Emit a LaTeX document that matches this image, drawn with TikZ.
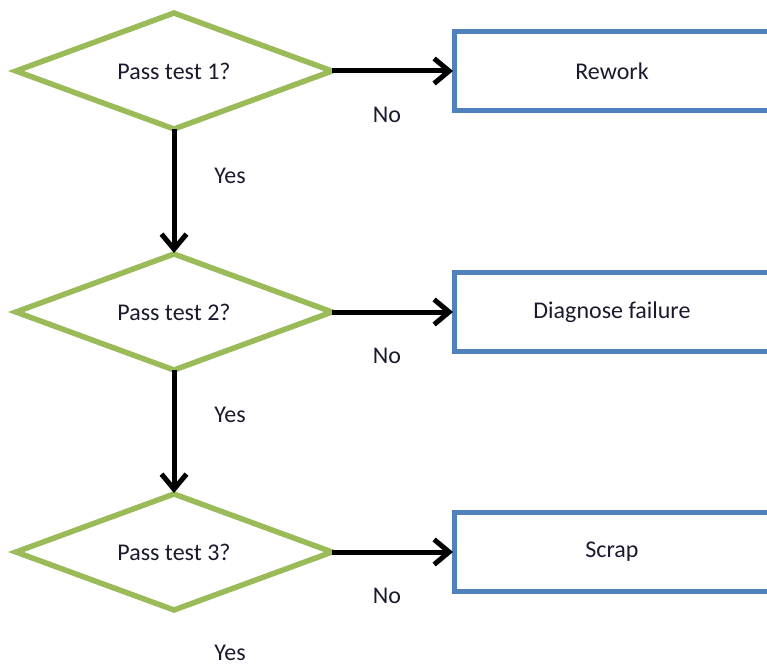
\documentclass[tikz,border=0pt]{standalone}
\usepackage{fontspec}
\setmainfont{Carlito}
\usetikzlibrary{shapes.geometric,arrows.meta}
\definecolor{dgreen}{HTML}{9BBB59}
\definecolor{dblue}{HTML}{4F81BD}
\definecolor{txt}{HTML}{1A1A2E}
\begin{document}
\begin{tikzpicture}[x=1pt,y=-1pt,
  font=\fontsize{24}{28}\selectfont,
  text=txt,
  dec/.style={diamond, draw=dgreen, line width=5.5pt, minimum width=316pt, minimum height=116pt,
              inner sep=0pt, outer sep=0pt, aspect=2.7},
  act/.style={rectangle, draw=dblue, line width=5pt, minimum width=316pt, minimum height=79pt,
              inner sep=0pt, outer sep=0pt},
  flow/.style={line width=5pt, draw=black, -{Straight Barb[length=15pt,width=25pt]}, shorten >=1pt},
  lbl/.style={inner sep=0pt}]
\useasboundingbox (0,0) rectangle (767,668);
\clip (0,0) rectangle (767,668);

\node[dec] (d1) at (174,71)  {Pass test 1?};
\node[dec] (d2) at (174,312) {Pass test 2?};
\node[dec] (d3) at (174,552) {Pass test 3?};

\node[act] (r1) at (612,71)  {Rework};
\node[act] (r2) at (612,312) {Diagnose failure};
\node[act] (r3) at (612,552) {Scrap};

\draw[flow] (d1.east) -- (r1.west);
\draw[flow] (d2.east) -- (r2.west);
\draw[flow] (d3.east) -- (r3.west);
\draw[flow] (d1.south) -- (d2.north);
\draw[flow] (d2.south) -- (d3.north);

\node[lbl] (no1) at (387,115) {No};
\node[lbl] (no2) at (387,356) {No};
\node[lbl] (no3) at (387,596) {No};
\node[lbl] (yes1) at (230,176) {Yes};
\node[lbl] (yes2) at (230,415) {Yes};
\node[lbl] (yes3) at (230,653) {Yes};
\end{tikzpicture}
\end{document}
